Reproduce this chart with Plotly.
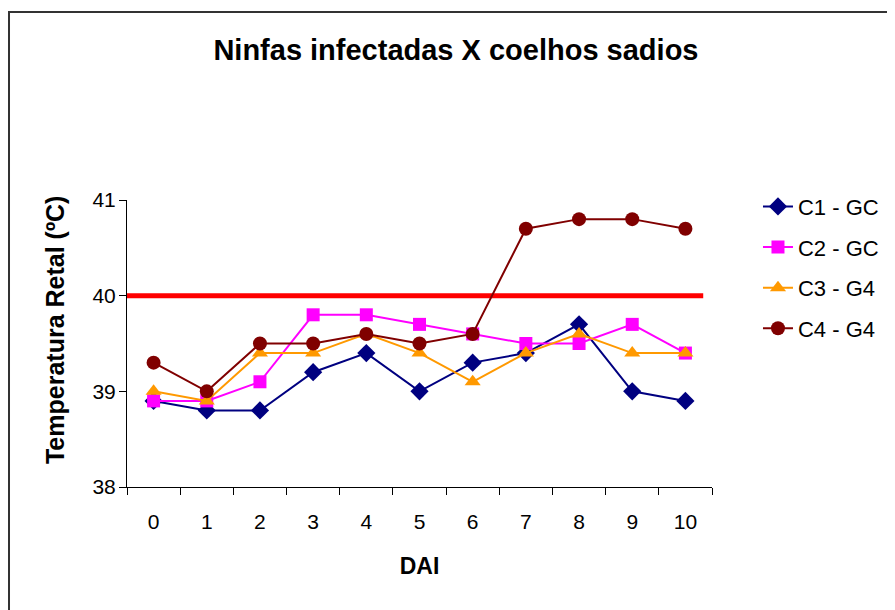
import plotly.graph_objects as go

# DAI (dias após infestação) e temperatura retal (ºC) por coelho
dai = ['0', '1', '2', '3', '4', '5', '6', '7', '8', '9', '10']
c1_gc = [38.9, 38.8, 38.8, 39.2, 39.4, 39.0, 39.3, 39.4, 39.7, 39.0, 38.9]
c2_gc = [38.9, 38.9, 39.1, 39.8, 39.8, 39.7, 39.6, 39.5, 39.5, 39.7, 39.4]
c3_g4 = [39.0, 38.9, 39.4, 39.4, 39.6, 39.4, 39.1, 39.4, 39.6, 39.4, 39.4]
c4_g4 = [39.3, 39.0, 39.5, 39.5, 39.6, 39.5, 39.6, 40.7, 40.8, 40.8, 40.7]
limiar_febre = 40

series = [
    ('C1 - GC', c1_gc, '#000080', 'diamond', 14),
    ('C2 - GC', c2_gc, '#FF00FF', 'square', 13),
    ('C3 - G4', c3_g4, '#FF9900', 'triangle-up', 14),
    ('C4 - G4', c4_g4, '#800000', 'circle', 14),
]

fig = go.Figure()
for i, (nome, vals, cor, simb, tam) in enumerate(series):
    fig.add_trace(go.Scatter(
        x=dai, y=vals, name=nome, mode='lines+markers',
        legendgroup=f'g{i}',
        line=dict(color=cor, width=2),
        marker=dict(color=cor, symbol=simb, size=tam),
    ))

# linha de referência (40 ºC)
fig.add_shape(type='line', xref='x domain', yref='y',
              x0=0, x1=0.985, y0=limiar_febre, y1=limiar_febre,
              line=dict(color='#FF0000', width=5), layer='below')

# moldura da área do gráfico
fig.add_shape(type='rect', xref='paper', yref='paper',
              x0=-0.2017, x1=2, y0=-1, y1=1.655,
              line=dict(color='#333333', width=2))

font = 'Liberation Sans, Arial, sans-serif'

# título do eixo y (um pouco acima do centro, como no original)
fig.add_annotation(text='<b>Temperatura Retal (ºC)</b>', textangle=-90,
                   xref='paper', yref='paper', x=-0.123, y=0.547,
                   xanchor='center', yanchor='middle', showarrow=False,
                   font=dict(size=25, family=font))

fig.update_layout(
    width=887, height=602,
    margin=dict(l=119, r=183, t=192, b=123, autoexpand=False),
    paper_bgcolor='white', plot_bgcolor='white',
    font=dict(family=font, size=21, color='black'),
    title=dict(text='<b>Ninfas infectadas X coelhos sadios</b>',
               x=0.505, xanchor='center', y=0.93, yanchor='middle',
               font=dict(size=29, family=font)),
    showlegend=True,
    legend=dict(x=1.0786, xanchor='left', y=1.05, yanchor='top',
                tracegroupgap=9, font=dict(size=22),
                bgcolor='rgba(0,0,0,0)'),
    xaxis=dict(type='category', range=[-0.5, 10.5], showline=True,
               linecolor='black', linewidth=1,
               ticks='outside', tickson='boundaries', ticklen=7, tickcolor='black',
               ticklabelstandoff=16,
               showgrid=False, zeroline=False,
               title=dict(text='<b>DAI</b>', standoff=25, font=dict(size=23))),
    yaxis=dict(range=[38, 41], tickvals=[38, 39, 40, 41], showline=True,
               linecolor='black', linewidth=1, ticks='outside', ticklen=7,
               tickcolor='black', showgrid=False, zeroline=False,
               ticklabelstandoff=-1),
)

fig.write_html('out.html')
